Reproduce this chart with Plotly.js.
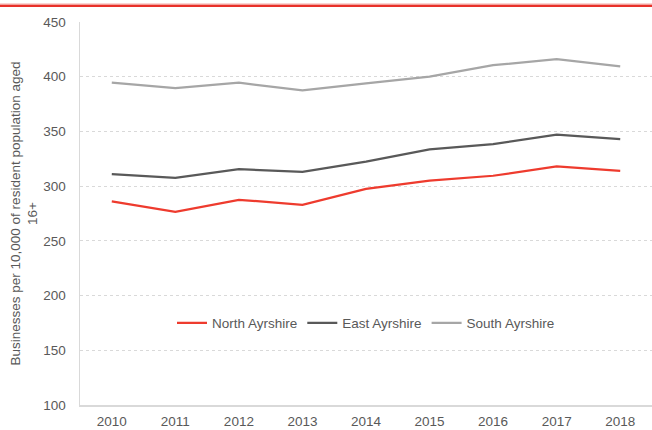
<!DOCTYPE html>
<html>
<head>
<meta charset="utf-8">
<script src="https://cdn.plot.ly/plotly-3.0.1.min.js"></script>
<style>html,body{margin:0;padding:0;background:#fff;}#chart{width:652px;height:430px;}</style>
</head>
<body>
<div id="chart"></div>
<script>
const years = ['2010','2011','2012','2013','2014','2015','2016','2017','2018'];
const northAyrshire = [286, 276.5, 287.5, 283, 297.5, 305, 309.5, 318, 314];
const eastAyrshire = [311, 307.5, 315.5, 313, 322.5, 333.5, 338.5, 347, 343];
const southAyrshire = [394.5, 389.5, 394.5, 387.5, 394, 400, 410.5, 416, 409.5];
const seriesNames = ['North Ayrshire', 'East Ayrshire', 'South Ayrshire'];
const seriesColors = ['#ee3b2e', '#595959', '#a6a6a6'];
const seriesValues = [northAyrshire, eastAyrshire, southAyrshire];

const traces = seriesValues.map((vals, i) => ({
  type: 'scatter', mode: 'lines', x: years, y: vals, name: seriesNames[i],
  line: {color: seriesColors[i], width: 2.25}
}));

const font = {family: 'Liberation Sans, Arial, sans-serif', size: 13.5, color: '#595959'};

const layout = {
  width: 652, height: 430,
  margin: {l: 80, r: 0, t: 22, b: 25},
  paper_bgcolor: '#ffffff', plot_bgcolor: '#ffffff',
  font: font,
  showlegend: true,
  legend: {orientation: 'h', x: 0.5, xanchor: 'center', y: 0.214, yanchor: 'middle',
    font: font, itemwidth: 30, bgcolor: 'rgba(0,0,0,0)'},
  xaxis: {type: 'category', range: [-0.5, 8.5], showgrid: false, showline: true, linecolor: '#d9d9d9', linewidth: 1.5,
    ticks: 'outside', ticklen: 3, tickcolor: 'rgba(0,0,0,0)', tickfont: font, zeroline: false},
  yaxis: {range: [100, 450], dtick: 50, showgrid: true, gridcolor: '#d9d9d9', griddash: 'dot', gridwidth: 1,
    showline: true, linecolor: '#d9d9d9', linewidth: 1.5, zeroline: false,
    ticks: 'outside', ticklen: 10, tickcolor: 'rgba(0,0,0,0)', tickfont: font,
    title: {text: 'Businesses per 10,000 of resident population aged<br>16+', font: font, standoff: 2}}
};

// top red rule drawn in pixel-based paper coordinates
const plotH = 430 - 22 - 25;
const yTop = 1 + (22 - 5.8) / plotH;
layout.shapes = [
  {type: 'line', xref: 'paper', yref: 'paper', x0: -80/572, x1: 1, y0: yTop, y1: yTop,
   line: {color: '#e8312a', width: 2.6}},
  {type: 'line', xref: 'paper', yref: 'paper', x0: -80/572, x1: 1, y0: yTop + 1.8/plotH, y1: yTop + 1.8/plotH,
   line: {color: '#f4a9a4', width: 1}}
];

Plotly.newPlot('chart', traces, layout, {displayModeBar: false, staticPlot: true});
</script>
</body>
</html>
